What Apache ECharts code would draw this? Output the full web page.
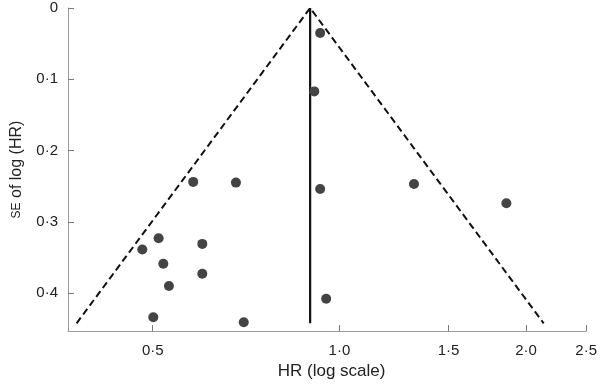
<!DOCTYPE html>
<html>
<head>
<meta charset="utf-8">
<script src="https://cdn.jsdelivr.net/npm/echarts@6/dist/echarts.min.js"></script>
<style>html,body{margin:0;padding:0;background:#fff}#c{width:600px;height:385px}</style>
</head>
<body>
<div id="c"></div>
<script>
// Study estimates: hazard ratio and standard error of log(HR)
var hrValues = [0.581, 0.681, 0.511, 0.601, 0.481, 0.520, 0.601, 0.531, 0.501, 0.701, 0.931, 0.911, 0.931, 1.319, 1.859, 0.952];
var seValues = [0.244, 0.245, 0.323, 0.331, 0.339, 0.359, 0.373, 0.390, 0.434, 0.441, 0.035, 0.117, 0.254, 0.247, 0.274, 0.408];
// Pooled estimate and funnel limits
var pooledHR = 0.897;
var funnelSE = 0.4425;
var zValue = 1.96;
// Axis ticks
var xTickValues = [0.5, 1.0, 1.5, 2.0, 2.5];
var xTickLabels = ['0·5', '1·0', '1·5', '2·0', '2·5'];
var yTickValues = [0, 0.1, 0.2, 0.3, 0.4];
var yTickLabels = ['0', '0·1', '0·2', '0·3', '0·4'];
var xRange = [0.365, 2.5];
var yRange = [0, 0.4534];

var ln = Math.log;
var points = hrValues.map(function (h, i) { return [ln(h), seValues[i]]; });
var lp = ln(pooledHR);
var funnel = [[lp - zValue * funnelSE, funnelSE], [lp, 0], [lp + zValue * funnelSE, funnelSE]];
var vline = [[lp, 0], [lp, funnelSE]];

function nearestLabel(v, vals, labels, f) {
  var best = 0, d = Infinity;
  vals.forEach(function (t, i) { var dd = Math.abs(f(t) - v); if (dd < d) { d = dd; best = i; } });
  return labels[best];
}

var font = 'Liberation Sans, Arial, sans-serif';
var chart = echarts.init(document.getElementById('c'), null, {renderer: 'canvas'});
chart.setOption({
  animation: false,
  backgroundColor: '#fff',
  grid: {left: 68, right: 10, top: 8, bottom: 46, containLabel: false},
  xAxis: {
    type: 'value', position: 'bottom',
    min: ln(xRange[0]), max: ln(xRange[1]),
    name: 'HR (log scale)', nameLocation: 'middle', nameGap: 29,
    nameTextStyle: {fontFamily: font, fontSize: 17, color: '#222', padding: [0, 0, 0, 9]},
    axisLine: {show: true, onZero: false, lineStyle: {color: '#999', width: 1}},
    axisTick: {show: true, inside: true, length: 6, lineStyle: {color: '#777', width: 1},
      customValues: xTickValues.map(ln)},
    axisLabel: {show: true, margin: 12, fontFamily: font, fontSize: 15, color: '#222',
      customValues: xTickValues.map(ln),
      formatter: function (v) { return nearestLabel(v, xTickValues, xTickLabels, ln); }},
    splitLine: {show: false}
  },
  yAxis: {
    type: 'value', inverse: true, position: 'left',
    min: yRange[0], max: yRange[1],
    name: '{sc|SE} of log (HR)', nameLocation: 'middle', nameGap: 43, nameRotate: 90,
    nameTextStyle: {fontFamily: font, fontSize: 16, color: '#222',
      rich: {sc: {fontFamily: font, fontSize: 12, color: '#222'}}},
    axisLine: {show: true, onZero: false, lineStyle: {color: '#999', width: 1}},
    axisTick: {show: true, inside: true, length: 6, lineStyle: {color: '#777', width: 1},
      customValues: yTickValues},
    axisLabel: {show: true, margin: 10, fontFamily: font, fontSize: 15, color: '#222',
      customValues: yTickValues,
      formatter: function (v) { return nearestLabel(v, yTickValues, yTickLabels, function (t) { return t; }); }},
    splitLine: {show: false}
  },
  series: [
    {type: 'line', data: funnel, symbol: 'none', silent: true,
      lineStyle: {color: '#111', width: 2, type: [7, 4]}, z: 2},
    {type: 'line', data: vline, symbol: 'none', silent: true,
      lineStyle: {color: '#111', width: 2.2}, z: 2},
    {type: 'scatter', data: points, symbol: 'circle', symbolSize: 10,
      itemStyle: {color: '#444', opacity: 1}, z: 3}
  ]
});
</script>
</body>
</html>
